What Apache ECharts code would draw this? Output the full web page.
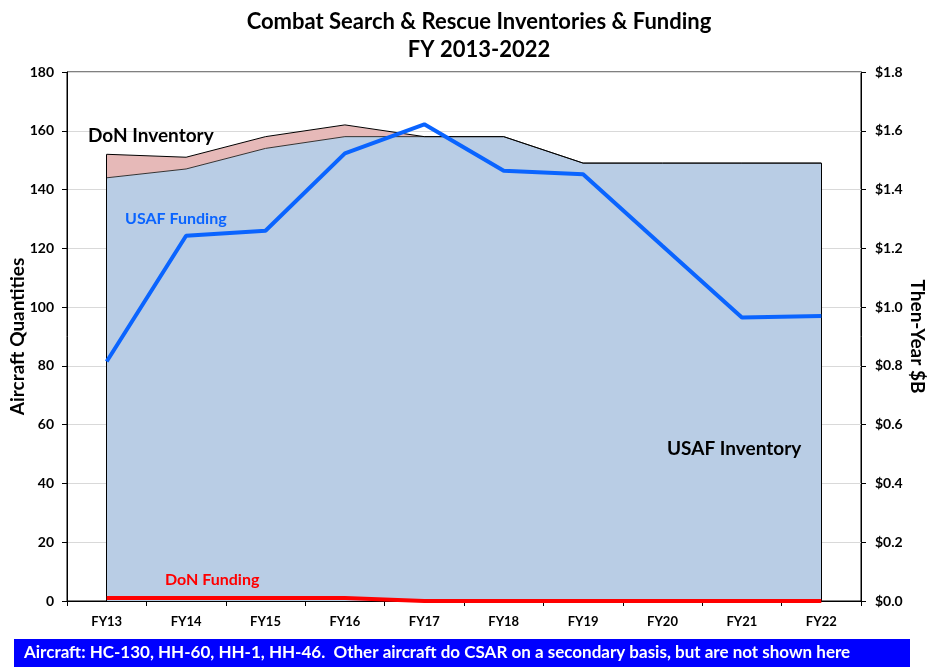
<!DOCTYPE html>
<html lang="en">
<head>
    <meta charset="UTF-8">
    <title>Combat Search & Rescue Inventories & Funding</title>
    <style>
        html, body { margin: 0; padding: 0; background: #fff; }
    </style>
</head>
<body>
<div id="main" style="width: 928px;height:667px;"></div>

<script src="https://cdn.jsdelivr.net/npm/echarts@6/dist/echarts.min.js"></script>
<script>
    // 数据
    var years = ['FY13', 'FY14', 'FY15', 'FY16', 'FY17', 'FY18', 'FY19', 'FY20', 'FY21', 'FY22'];
    var usafInventory = [144, 147, 154, 158, 158, 158, 149, 149, 149, 149];
    var donInventory = [8, 4, 4, 4, 0, 0, 0, 0, 0, 0];
    var usafFunding = [0.815, 1.243, 1.26, 1.523, 1.622, 1.464, 1.452, 1.208, 0.965, 0.97];
    var donFunding = [0.01, 0.01, 0.01, 0.01, 0, 0, 0, 0, 0, 0];
    var leftTicks = [0, 180, 20];
    var rightTicks = [0, 1.8, 0.2];

    var font = 'Lato';
    var myChart = echarts.init(document.getElementById('main'));

    var first = years[0], last = years[years.length - 1];
    var topFirst = usafInventory[0] + donInventory[0];
    var topLast = usafInventory[usafInventory.length - 1] + donInventory[donInventory.length - 1];

    // 图上的文字注释
    function note(text, x, y, color, size) {
        return {
            type: 'text', left: x, top: y, z: 100,
            style: { text: text, fill: color, fontFamily: font, fontSize: size, fontWeight: 'bold' }
        };
    }

    var option = {
        animation: false,
        textStyle: { fontFamily: font },
        title: {
            text: 'Combat Search & Rescue Inventories & Funding\nFY 2013-2022',
            left: 474, textAlign: 'center', top: 3,
            textStyle: { fontFamily: font, fontSize: 22, fontWeight: 'bold', color: '#000', lineHeight: 28 }
        },
        grid: {
            left: 67, right: 67, top: 72, bottom: 66, outerBoundsMode: 'none', containLabel: false,
            show: true, borderColor: '#000', borderWidth: 1
        },
        xAxis: {
            type: 'category',
            data: years,
            boundaryGap: true,
            axisLine: { lineStyle: { color: '#000', width: 1 } },
            axisTick: { show: true, length: 5, lineStyle: { color: '#000' } },
            axisLabel: { margin: 14, fontFamily: font, fontSize: 13, fontWeight: 'bold', color: '#000' }
        },
        yAxis: [{
            type: 'value',
            min: leftTicks[0], max: leftTicks[1], interval: leftTicks[2],
            name: 'Aircraft Quantities',
            nameLocation: 'middle', nameGap: 40, nameMoveOverlap: false,
            nameTextStyle: { fontFamily: font, fontSize: 19, fontWeight: 'bold', color: '#000' },
            axisLine: { show: true, lineStyle: { color: '#000' } },
            axisTick: { show: true, length: 5, lineStyle: { color: '#000' } },
            axisLabel: { margin: 13, fontFamily: font, fontSize: 14, fontWeight: 'bold', color: '#000' },
            splitLine: { lineStyle: { color: '#d9d9d9' } }
        }, {
            type: 'value',
            min: rightTicks[0], max: rightTicks[1], interval: rightTicks[2],
            name: 'Then-Year $B',
            nameLocation: 'middle', nameGap: 47, nameRotate: -90, nameMoveOverlap: false,
            nameTextStyle: { fontFamily: font, fontSize: 19, fontWeight: 'bold', color: '#000' },
            axisLine: { show: true, lineStyle: { color: '#000' } },
            axisTick: { show: true, length: 5, lineStyle: { color: '#000' } },
            axisLabel: {
                margin: 14, fontFamily: font, fontSize: 14, fontWeight: 'bold', color: '#000',
                formatter: function (v) { return '$' + v.toFixed(1); }
            },
            splitLine: { show: false }
        }],
        series: [{
            name: 'USAF Inventory',
            type: 'line',
            stack: 'inv',
            data: usafInventory,
            symbol: 'none',
            lineStyle: { color: '#333', width: 1 },
            areaStyle: { color: '#b9cde5', opacity: 1 },
            z: 1
        }, {
            name: 'DoN Inventory',
            type: 'line',
            stack: 'inv',
            data: donInventory,
            symbol: 'none',
            lineStyle: { color: '#000', width: 1 },
            areaStyle: { color: '#e6b9b8', opacity: 1 },
            z: 1,
            markLine: {
                silent: true, symbol: 'none', label: { show: false },
                lineStyle: { color: '#000', width: 1, type: 'solid' },
                data: [
                    [{ coord: [first, 0] }, { coord: [first, topFirst] }],
                    [{ coord: [last, 0] }, { coord: [last, topLast] }]
                ]
            }
        }, {
            name: 'USAF Funding',
            type: 'line',
            yAxisIndex: 1,
            data: usafFunding,
            symbol: 'none',
            lineStyle: { color: '#0a64ff', width: 4 },
            z: 5
        }, {
            name: 'DoN Funding',
            type: 'line',
            yAxisIndex: 1,
            data: donFunding,
            symbol: 'none',
            lineStyle: { color: '#ff0000', width: 4 },
            z: 5
        }],
        graphic: [
            note('DoN Inventory', 88, 126, '#000', 19),
            note('USAF Funding', 125, 211, '#0a64ff', 16),
            note('USAF Inventory', 667, 439, '#000', 19),
            note('DoN Funding', 165, 572, '#ff0000', 16),
            { type: 'rect', left: 14, top: 639, z: 100, shape: { width: 896, height: 28 }, style: { fill: '#0000ff' } },
            note('Aircraft: HC-130, HH-60, HH-1, HH-46.  Other aircraft do CSAR on a secondary basis, but are not shown here', 24, 644, '#fff', 17)
        ]
    };

    myChart.setOption(option);
</script>
</body>
</html>
